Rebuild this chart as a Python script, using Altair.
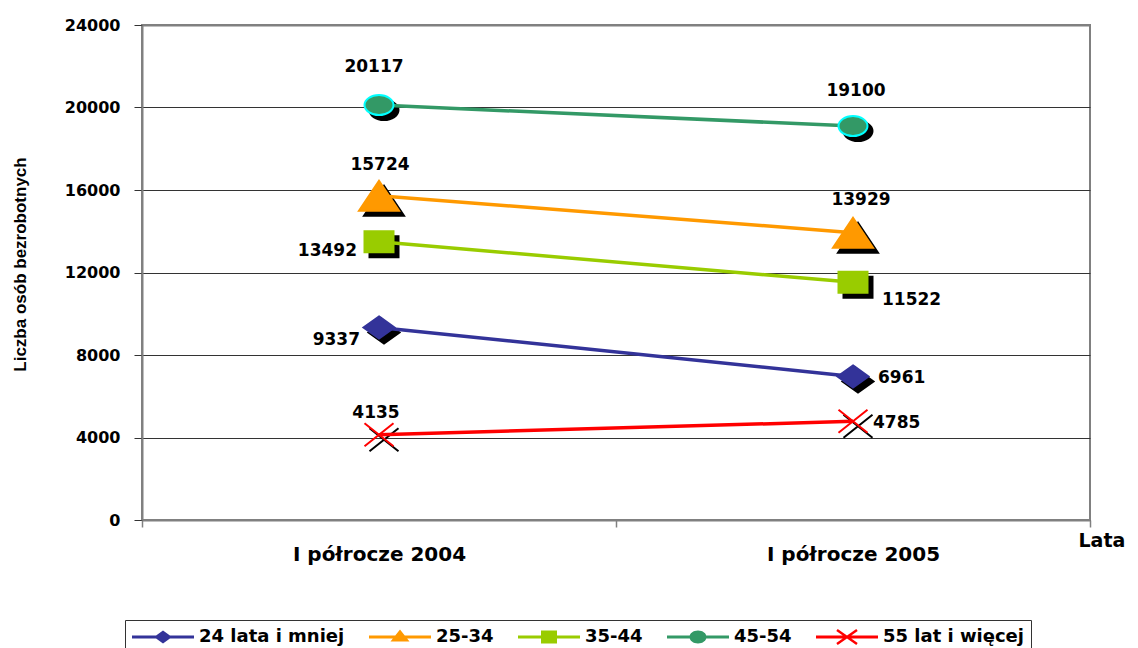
import altair as alt
import pandas as pd

categories = ["I półrocze 2004", "I półrocze 2005"]
series = ["24 lata i mniej", "25-34", "35-44", "45-54", "55 lat i więcej"]
values_2004 = [9337, 15724, 13492, 20117, 4135]
values_2005 = [6961, 13929, 11522, 19100, 4785]
y_ticks = [0, 4000, 8000, 12000, 16000, 20000, 24000]

colors = ["#333399", "#FF9900", "#99CC00", "#339966", "#FF0000"]
outline = ["#333399", "#FF9900", "#99CC00", "#00FFFF", "#FF0000"]

# marker outlines (unit = 10 px at size 400)
marker_paths = [
    "M0,-1.1L1.55,0L0,1.1L-1.55,0Z",
    "M0,-1.5L2,1.5L-2,1.5Z",
    "M-1.45,-1.05H1.45V1.05H-1.45Z",
    "M-1.45,0A1.45,1,0,1,1,1.45,0A1.45,1,0,1,1,-1.45,0Z",
    "M-1.45,-1.15L1.45,1.15M1.45,-1.15L-1.45,1.15",
]
# legend symbols: line + marker
legend_paths = [
    "M-1,-0.15H5.2V0.15H-1Z M2.1,-0.65L3,0L2.1,0.65L1.2,0Z",
    "M-1,-0.15H5.2V0.15H-1Z M2.1,-0.75L3.05,0.45L1.15,0.45Z",
    "M-1,-0.15H5.2V0.15H-1Z M1.3,-0.65H2.9V0.65H1.3Z",
    "M-1,-0.15H5.2V0.15H-1Z M1.25,0A0.85,0.65,0,1,1,2.95,0A0.85,0.65,0,1,1,1.25,0Z",
    "M-1,-0.15H5.2V0.15H-1Z M1.029,-0.597L1.171,-0.803L3.171,0.597L3.029,0.803Z "
    "M1.171,0.803L1.029,0.597L3.029,-0.803L3.171,-0.597Z",
]

rows = []
for s, a, b in zip(series, values_2004, values_2005):
    rows.append({"series": s, "cat": categories[0], "value": a})
    rows.append({"series": s, "cat": categories[1], "value": b})
df = pd.DataFrame(rows)

BOLD_FONT = "DejaVu Sans"

x_enc = alt.X(
    "cat:N",
    sort=categories,
    scale=alt.Scale(type="band", domain=categories, paddingInner=0, paddingOuter=0),
    axis=alt.Axis(
        title="Lata", titleX=936, titleY=11, titleAlign="left", titleBaseline="top",
        titleFont=BOLD_FONT, titleFontSize=19, titleFontWeight="bold", titleColor="black",
        labelAngle=0, labelFont=BOLD_FONT, labelFontSize=20, labelFontWeight="bold",
        labelColor="black", labelPadding=17, tickSize=7, tickBand="extent",
        tickColor="#808080", tickWidth=1.5, domainColor="#808080", domainWidth=2, grid=False,
    ),
)
y_enc = alt.Y(
    "value:Q",
    scale=alt.Scale(domain=[0, 24000], nice=False),
    axis=alt.Axis(
        values=y_ticks, format="d",
        title="Liczba osób bezrobotnych", titleFont="Liberation Sans", titleFontSize=17,
        titleFontWeight="bold", titleColor="black", titleX=-122, titleY=239,
        titleAngle=-90, titleAlign="center", titleBaseline="middle",
        labelFont=BOLD_FONT, labelFontSize=16, labelFontWeight="bold", labelColor="black",
        labelPadding=14, tickSize=8, tickColor="#333333",
        domainColor="#808080", domainWidth=2,
        grid=True,
        gridColor={"condition": {"test": "datum.value >= 24000", "value": "#808080"}, "value": "#333333"},
        gridWidth={"condition": {"test": "datum.value >= 24000", "value": 2}, "value": 1},
    ),
)

base = alt.Chart(df).encode(x=x_enc, y=y_enc)

def scl(rng):
    return alt.Scale(domain=series, range=rng)

shadows = base.mark_point(
    filled=True, size=400, opacity=1, color="black", stroke="black", strokeWidth=2,
    xOffset=5, yOffset=5,
).encode(shape=alt.Shape("series:N", scale=scl(marker_paths), legend=None))

lines = base.mark_line(strokeWidth=3.5).encode(
    color=alt.Color("series:N", scale=scl(colors), legend=None),
    detail="series:N",
)

markers = base.mark_point(filled=True, size=400, opacity=1, strokeWidth=2).encode(
    color=alt.Color("series:N", scale=scl(colors), legend=None),
    stroke=alt.Stroke("series:N", scale=scl(outline), legend=None),
    shape=alt.Shape("series:N", scale=scl(marker_paths), legend=None),
)

legend = alt.Legend(
    title=None, orient="none", legendX=-17, legendY=595, direction="horizontal",
    symbolSize=400, symbolStrokeWidth=0, symbolOpacity=1, labelOffset=47,
    columnPadding=24, padding=7, strokeColor="#333333",
    labelFont=BOLD_FONT, labelFontSize=18, labelFontWeight="bold", labelColor="black",
)
legend_layer = base.transform_filter("datum.value < 0").mark_point(
    filled=True, opacity=1
).encode(
    color=alt.Color("series:N", scale=scl(colors), legend=legend),
    shape=alt.Shape("series:N", scale=scl(legend_paths), legend=legend),
)

def label(s, c, dx, dy, align):
    return base.transform_filter(
        (alt.datum.series == s) & (alt.datum.cat == c)
    ).mark_text(
        dx=dx, dy=dy, align=align, baseline="middle", font=BOLD_FONT,
        fontSize=17, fontWeight="bold", color="black",
    ).encode(text=alt.Text("value:Q", format="d"))

labels = [
    label(series[3], categories[0], -5, -38, "center"),
    label(series[1], categories[0], 1, -31, "center"),
    label(series[4], categories[0], -3, -22, "center"),
    label(series[3], categories[1], 3, -35, "center"),
    label(series[1], categories[1], 8, -33, "center"),
    label(series[2], categories[0], -22, 9, "right"),
    label(series[0], categories[0], -19, 13, "right"),
    label(series[2], categories[1], 29, 18, "left"),
    label(series[0], categories[1], 25, 2, "left"),
    label(series[4], categories[1], 20, 2, "left"),
]

chart = alt.layer(shadows, lines, markers, legend_layer, *labels).resolve_scale(
    color="independent", shape="independent", stroke="independent"
).properties(
    width=948, height=495,
    autosize=alt.AutoSizeParams(type="none"),
    padding={"left": 134, "top": 17, "right": 40, "bottom": 140},
).configure_view(stroke="#808080", strokeWidth=2)

chart.save("out.html", embed_options={"renderer": "svg", "actions": False})
